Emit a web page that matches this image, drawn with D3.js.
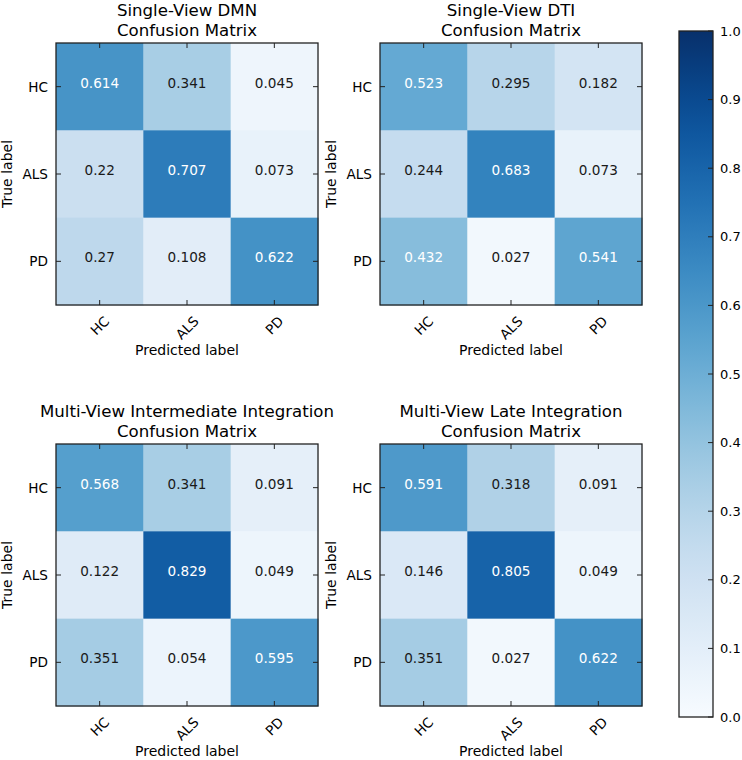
<!DOCTYPE html>
<html><head><meta charset="utf-8">
<script src="https://cdn.jsdelivr.net/npm/d3@7"></script>
<style>
html,body{margin:0;padding:0;background:#fff;}
svg{display:block;font-family:"DejaVu Sans",sans-serif;}
</style></head>
<body><svg id="chart" width="742" height="760"></svg>
<script>
const classes = ["HC", "ALS", "PD"];
const titles = [
  ["Single-View DMN", "Confusion Matrix"],
  ["Single-View DTI", "Confusion Matrix"],
  ["Multi-View Intermediate Integration", "Confusion Matrix"],
  ["Multi-View Late Integration", "Confusion Matrix"]
];
const dmnValues = [[0.614, 0.341, 0.045], [0.22, 0.707, 0.073], [0.27, 0.108, 0.622]];
const dtiValues = [[0.523, 0.295, 0.182], [0.244, 0.683, 0.073], [0.432, 0.027, 0.541]];
const intermediateValues = [[0.568, 0.341, 0.091], [0.122, 0.829, 0.049], [0.351, 0.054, 0.595]];
const lateValues = [[0.591, 0.318, 0.091], [0.146, 0.805, 0.049], [0.351, 0.027, 0.622]];
const colorbarTicks = [0.0, 0.1, 0.2, 0.3, 0.4, 0.5, 0.6, 0.7, 0.8, 0.9, 1.0];

const matrices = [dmnValues, dtiValues, intermediateValues, lateValues];
const panels = [
  {x: 56, y: 43}, {x: 380, y: 43}, {x: 56, y: 444}, {x: 380, y: 444}
];
const W = 262, H = 262;
const svg = d3.select("#chart");
const color = d3.scaleSequential(d3.interpolateBlues).domain([0, 1]);
const edge = "#222";

matrices.forEach((m, i) => {
  const p = panels[i];
  const g = svg.append("g").attr("transform", `translate(${p.x},${p.y})`);
  const x = d3.scaleBand().domain(classes).range([0, W]);
  const y = d3.scaleBand().domain(classes).range([0, H]);
  const cells = [];
  m.forEach((row, r) => row.forEach((v, c) => cells.push({r: classes[r], c: classes[c], v})));
  const maxV = d3.max(cells, d => d.v);
  const thresh = maxV / 2;
  g.selectAll("rect.cell").data(cells).join("rect").attr("class", "cell")
    .attr("x", d => x(d.c)).attr("y", d => y(d.r))
    .attr("width", x.bandwidth() + 0.5).attr("height", y.bandwidth() + 0.5)
    .attr("fill", d => color(d.v));
  g.selectAll("text.val").data(cells).join("text").attr("class", "val")
    .attr("x", d => x(d.c) + x.bandwidth() / 2)
    .attr("y", d => y(d.r) + y.bandwidth() / 2 + 1)
    .attr("text-anchor", "middle").attr("font-size", 13.6)
    .attr("fill", d => d.v > thresh ? "#fff" : "#1a1a1a")
    .text(d => d.v);
  // frame
  g.append("rect").attr("width", W).attr("height", H).attr("fill", "none")
    .attr("stroke", edge).attr("stroke-width", 1.3);
  // inward ticks on all four sides
  const tl = 5;
  classes.forEach(cl => {
    const cx = x(cl) + x.bandwidth() / 2, cy = y(cl) + y.bandwidth() / 2;
    g.append("line").attr("x1", cx).attr("x2", cx).attr("y1", 0).attr("y2", tl).attr("stroke", edge);
    g.append("line").attr("x1", cx).attr("x2", cx).attr("y1", H).attr("y2", H - tl).attr("stroke", edge);
    g.append("line").attr("x1", 0).attr("x2", tl).attr("y1", cy).attr("y2", cy).attr("stroke", edge);
    g.append("line").attr("x1", W).attr("x2", W - tl).attr("y1", cy).attr("y2", cy).attr("stroke", edge);
  });
  // y tick labels
  g.selectAll("text.ytl").data(classes).join("text").attr("class", "ytl")
    .attr("x", -8).attr("y", d => y(d) + y.bandwidth() / 2)
    .attr("dy", "0.36em").attr("text-anchor", "end").attr("font-size", 13.6)
    .attr("fill", "#000").text(d => d);
  // x tick labels rotated 45, bbox centered at tick
  g.selectAll("text.xtl").data(classes).join("text").attr("class", "xtl")
    .attr("text-anchor", "middle").attr("dy", "0.36em").attr("font-size", 13.6)
    .attr("fill", "#000").text(d => d)
    .each(function(d) {
      const w = this.getComputedTextLength();
      const h = 10.5;
      const bh = (w + h) / Math.SQRT2;
      const cx = x(d) + x.bandwidth() / 2;
      const cy = H + 10 + bh / 2;
      d3.select(this).attr("transform", `translate(${cx},${cy}) rotate(-45)`);
    });
  // axis labels
  g.append("text").attr("x", W / 2).attr("y", H + 50).attr("text-anchor", "middle")
    .attr("font-size", 14).attr("fill", "#000").text("Predicted label");
  g.append("text").attr("transform", `translate(${-44},${H / 2}) rotate(-90)`)
    .attr("text-anchor", "middle").attr("font-size", 14).attr("fill", "#000").text("True label");
  // title
  g.append("text").attr("x", W / 2).attr("y", -27).attr("text-anchor", "middle")
    .attr("font-size", 16.6).attr("fill", "#000").text(titles[i][0]);
  g.append("text").attr("x", W / 2).attr("y", -7).attr("text-anchor", "middle")
    .attr("font-size", 16.6).attr("fill", "#000").text(titles[i][1]);
});

// colorbar
const cb = {x: 679, y: 31, w: 34, h: 686};
const defs = svg.append("defs");
const grad = defs.append("linearGradient").attr("id", "cbgrad")
  .attr("x1", 0).attr("y1", 1).attr("x2", 0).attr("y2", 0);
d3.range(0, 1.0001, 0.05).forEach(t => {
  grad.append("stop").attr("offset", t).attr("stop-color", color(t));
});
const cy = d3.scaleLinear().domain([0, 1]).range([cb.y + cb.h, cb.y]);
svg.append("rect").attr("x", cb.x).attr("y", cb.y).attr("width", cb.w).attr("height", cb.h)
  .attr("fill", "url(#cbgrad)").attr("stroke", edge).attr("stroke-width", 1.3);
const cbg = svg.append("g");
cbg.selectAll("line").data(colorbarTicks).join("line")
  .attr("x1", cb.x + cb.w).attr("x2", cb.x + cb.w - 5)
  .attr("y1", d => cy(d)).attr("y2", d => cy(d)).attr("stroke", edge);
cbg.selectAll("text").data(colorbarTicks).join("text")
  .attr("x", cb.x + cb.w + 7).attr("y", d => cy(d)).attr("dy", "0.36em")
  .attr("font-size", 13).attr("fill", "#000").text(d => d3.format(".1f")(d));
</script></body></html>
